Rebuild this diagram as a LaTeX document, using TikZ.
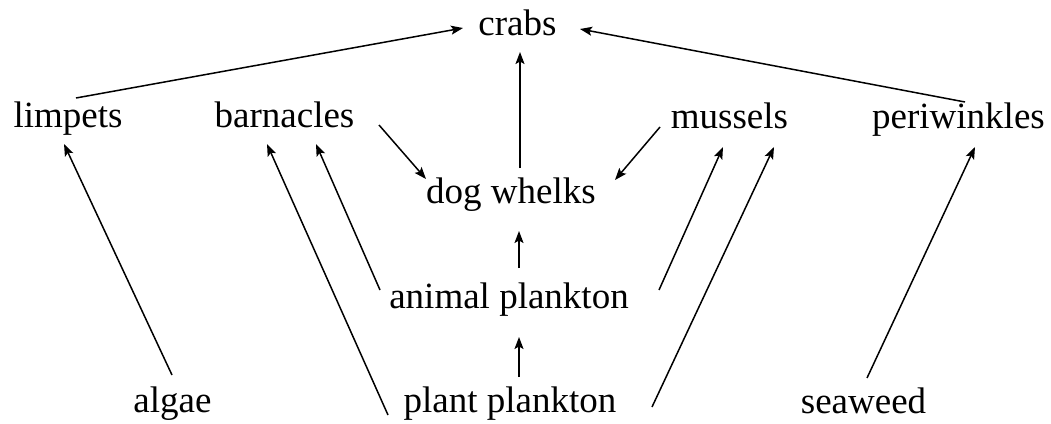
\documentclass[tikz,border=0pt]{standalone}
\usepackage{fontspec}
\setmainfont{Liberation Serif}
\usetikzlibrary{arrows.meta,calc}
\begin{document}
\begin{tikzpicture}[x=1pt,y=-1pt,
  lbl/.style={inner sep=0pt,anchor=base,font=\fontsize{37}{40}\selectfont},
  arr/.style={line width=1.5pt,-{Stealth[length=12pt,width=9pt,inset=2.5pt]}}]
\useasboundingbox (0,0) rectangle (1051,423);
\node[lbl] (crabs) at (517.5,35) {crabs};
\node[lbl] (limpets) at (68,127) {limpets};
\node[lbl] (barnacles) at (284.5,127) {barnacles};
\node[lbl] (mussels) at (729.5,128) {mussels};
\node[lbl] (periwinkles) at (958.5,128) {periwinkles};
\node[lbl] (dogwhelks) at (511,203) {dog whelks};
\node[lbl] (animal) at (509,308) {animal plankton};
\node[lbl] (plant) at (510,412) {plant plankton};
\node[lbl] (algae) at (172.5,412) {algae};
\node[lbl] (seaweed) at (863.5,413) {seaweed};
\draw[arr] ([shift={(8,-29)}]limpets.base) -- ([shift={(-54.5,-7)}]crabs.base);
\draw[arr] ([shift={(6.5,-26)}]periwinkles.base) -- ([shift={(62.5,-6)}]crabs.base);
\draw[arr] ([shift={(9,-35)}]dogwhelks.base) -- ([shift={(2.5,17)}]crabs.base);
\draw[arr] ([shift={(94.5,-2)}]barnacles.base) -- ([shift={(-85,-24)}]dogwhelks.base);
\draw[arr] ([shift={(-69.5,-1)}]mussels.base) -- ([shift={(104,-23)}]dogwhelks.base);
\draw[arr] ([shift={(10,-40)}]animal.base) -- ([shift={(8,28)}]dogwhelks.base);
\draw[arr] ([shift={(9,-35)}]plant.base) -- ([shift={(10,29)}]animal.base);
\draw[arr] ([shift={(-0.5,-37)}]algae.base) -- ([shift={(-4,17)}]limpets.base);
\draw[arr] ([shift={(-122,3)}]plant.base) -- ([shift={(-17.5,17)}]barnacles.base);
\draw[arr] ([shift={(-129,-18)}]animal.base) -- ([shift={(31.5,17)}]barnacles.base);
\draw[arr] ([shift={(150,-18)}]animal.base) -- ([shift={(-6.5,19)}]mussels.base);
\draw[arr] ([shift={(142,-5)}]plant.base) -- ([shift={(44.5,19)}]mussels.base);
\draw[arr] ([shift={(3.5,-35)}]seaweed.base) -- ([shift={(16.5,19)}]periwinkles.base);
\end{tikzpicture}
\end{document}
